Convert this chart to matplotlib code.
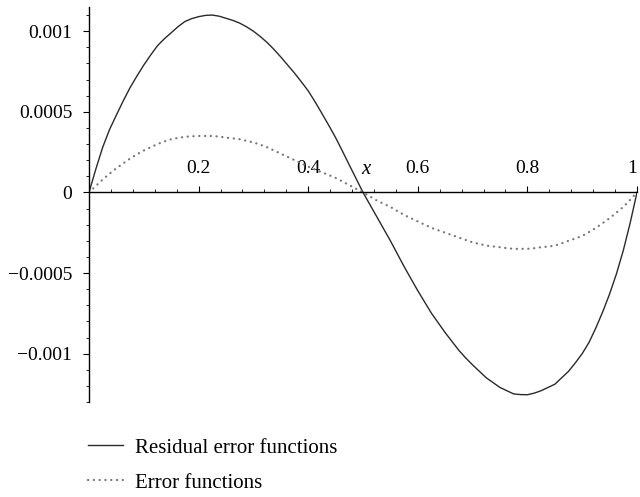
import matplotlib
matplotlib.use('Agg')
import matplotlib.pyplot as plt
from matplotlib.ticker import MultipleLocator, FixedLocator

plt.rcParams['font.family'] = ['Liberation Serif', 'DejaVu Serif']
plt.rcParams['font.size'] = 14

x_vals = [i * 0.0125 for i in range(81)]

residual = [0, 0.000145, 0.00028, 0.00039, 0.00048, 0.000568, 0.00065, 0.000722,
            0.00079, 0.000852, 0.00091, 0.000953, 0.00099, 0.001028, 0.00106,
            0.001078, 0.00109, 0.001098, 0.00110, 0.001093, 0.00108, 0.001067,
            0.00105, 0.001027, 0.00100, 0.000967, 0.00093, 0.000887, 0.00084,
            0.00079, 0.00074, 0.000686, 0.00063, 0.000562, 0.00049, 0.000416,
            0.00034, 0.000256, 0.00017, 0.000085, 0.0,
            -0.000075, -0.00015, -0.000225, -0.00030, -0.00038, -0.00046,
            -0.000535, -0.00061, -0.00068, -0.00075, -0.00081, -0.00087,
            -0.000925, -0.00098, -0.001027, -0.00107, -0.00111, -0.00115,
            -0.00118, -0.00121, -0.00123, -0.00125, -0.001254, -0.001255,
            -0.001245, -0.00123, -0.00121, -0.00119, -0.00115, -0.00111,
            -0.001057, -0.00100, -0.00093, -0.00084, -0.00074, -0.00063,
            -0.000505, -0.00036, -0.00019, 0.0]

error = [0, 0.00004, 0.00008, 0.000116, 0.00015, 0.00018, 0.00021, 0.000236,
         0.00026, 0.00028, 0.00030, 0.000316, 0.00033, 0.000338, 0.000345,
         0.000348, 0.00035, 0.00035, 0.00035, 0.000346, 0.00034, 0.000335,
         0.00033, 0.00032, 0.00031, 0.000296, 0.00028, 0.00026, 0.00024,
         0.00022, 0.00020, 0.00018, 0.00016, 0.000142, 0.000125, 0.000108,
         0.00009, 0.000068, 0.000045, 0.000022, 0.0,
         -0.000025, -0.00005, -0.00007, -0.00009, -0.000115, -0.00014,
         -0.00016, -0.00018, -0.0002, -0.00022, -0.000235, -0.00025,
         -0.000265, -0.00028, -0.000295, -0.00031, -0.00032, -0.00033,
         -0.000335, -0.00034, -0.000346, -0.00035, -0.00035, -0.00035,
         -0.000346, -0.00034, -0.000336, -0.00033, -0.000316, -0.00030,
         -0.000286, -0.00027, -0.000246, -0.00022, -0.00019, -0.00016,
         -0.000125, -0.00009, -0.000046, 0.0]

x_ticks = [0.2, 0.4, 0.6, 0.8, 1.0]
x_labels = ['0.2', '0.4', '0.6', '0.8', '1']
y_ticks = [-0.001, -0.0005, 0, 0.0005, 0.001]
y_labels = ['\u22120.001', '\u22120.0005', '0', '0.0005', '0.001']

fig = plt.figure(figsize=(6.4, 4.97), dpi=100)
ax = fig.add_axes([89 / 640, 1 - 402 / 497, 548 / 640, 395 / 497])

l1, = ax.plot(x_vals, residual, color='#2a2a2a', lw=1.0,
              label='Residual error functions')
l2, = ax.plot(x_vals, error, color='#777777', lw=1.6,
              linestyle=(0, (0.1, 2.5)), dash_capstyle='round',
              label='Error functions')

ax.set_xlim(0, 1.0)
ax.set_ylim(-0.0013, 0.00115)

# axes through the origin, Mathematica style
ax.spines['top'].set_visible(False)
ax.spines['right'].set_visible(False)
ax.spines['bottom'].set_position(('data', 0))
ax.spines['left'].set_linewidth(1.0)
ax.spines['bottom'].set_linewidth(1.0)

ax.xaxis.set_major_locator(FixedLocator(x_ticks))
ax.set_xticklabels(x_labels)
ax.xaxis.set_minor_locator(MultipleLocator(0.04))
ax.yaxis.set_major_locator(FixedLocator(y_ticks))
ax.set_yticklabels(y_labels)
ax.yaxis.set_minor_locator(MultipleLocator(0.0001))

ax.tick_params(axis='x', which='major', direction='in', length=4, width=0.8, pad=-23)
ax.tick_params(axis='x', which='minor', direction='in', length=2.5, width=0.6)
ax.tick_params(axis='y', which='major', direction='out', length=4, width=0.8, pad=8)
ax.tick_params(axis='y', which='minor', direction='out', length=2.5, width=0.6)

# keep the "1" at the right edge inside the picture
ax.get_xticklabels()[-1].set_horizontalalignment('right')

ax.text(0.505, 0.000143, 'x', style='italic', ha='center', va='center', fontsize=15)

fig.legend(handles=[l1, l2], loc='upper left', bbox_to_anchor=(88 / 640, 1 - 438 / 497),
           frameon=False, fontsize=15, handlelength=1.7, handletextpad=0.55,
           labelspacing=0.75, borderaxespad=0, borderpad=0)

fig.savefig('out.png', dpi=100)
